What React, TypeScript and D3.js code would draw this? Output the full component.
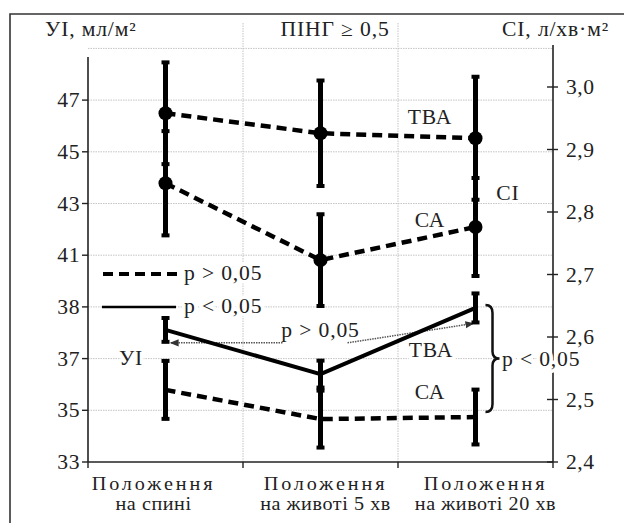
import React from 'react';
import * as d3 from 'd3';

// ---------- data ----------
const categories = ['спина', 'живіт 5', 'живіт 20'];
const catLine1 = ['Положення', 'Положення', 'Положення'];
const catLine2 = ['на спині', 'на животі 5 хв', 'на животі 20 хв'];
const catLabelShift = [-12, 5, 10];

// CI (right axis), л/хв·м²
const ciTva = [2.958, 2.926, 2.918];
const ciTvaErr = [0.083, 0.086, 0.1];
const ciSa = [2.846, 2.723, 2.776];
const ciSaErr = [0.085, 0.075, 0.08];

// УІ (left axis), мл/м²
const uiTva = [38.11, 36.4, 38.96];
const uiTvaErr = [0.5, 0.56, 0.6];
const uiSa = [35.79, 34.66, 34.74];
const uiSaErr = [1.16, 1.14, 1.1];

const leftTicks = [33, 35, 37, 39, 41, 43, 45, 47];
const leftTickLabels = ['33', '35', '37', '38', '41', '43', '45', '47'];
const gridValues = [35, 37, 39, 41, 43, 45, 47, 49];
const rightTicks = [2.4, 2.5, 2.6, 2.7, 2.8, 2.9, 3.0];
const rightTickLabels = ['2,4', '2,5', '2,6', '2,7', '2,8', '2,9', '3,0'];

// ---------- layout ----------
const W = 624;
const H = 523;
const X0 = 88;
const X1 = 553;
const Y0 = 462;
const FONT = "'Liberation Serif', 'Times New Roman', 'DejaVu Serif', serif";

const x = d3.scaleBand<string>().domain(categories).range([X0, X1]).padding(0);
const cx = (i: number) => (x(categories[i]) as number) + x.bandwidth() / 2;
const yL = d3.scaleLinear().domain([33, 49]).range([Y0, Y0 - 8 * 51.7]);
const yR = d3.scaleLinear().domain([2.4, 3.0]).range([Y0, 87]);

const T = ({ x: tx, y: ty, anchor = 'start', size = 20, halo = false, ls = 0.8, sx = 1.08, children }: any) => (
  <text
    transform={`translate(${tx},${ty}) scale(${sx},1)`}
    textAnchor={anchor}
    style={{ fontFamily: FONT, fontSize: size, letterSpacing: ls }}
    fill="#222"
    stroke={halo ? '#fff' : 'none'}
    strokeWidth={halo ? 7 : 0}
    strokeLinejoin="round"
    paintOrder="stroke"
  >
    {children}
  </text>
);

function ErrorBars({ vals, errs, scale }: { vals: number[]; errs: number[]; scale: any }) {
  return (
    <g>
      {vals.map((v, i) => {
        const xc = cx(i);
        const top = scale(v + errs[i]);
        const bot = scale(v - errs[i]);
        return (
          <g key={i}>
            <line x1={xc} x2={xc} y1={top} y2={bot} stroke="#000" strokeWidth={5} />
            <line x1={xc - 4} x2={xc + 4} y1={top + 1} y2={top + 1} stroke="#000" strokeWidth={4} />
            <line x1={xc - 4} x2={xc + 4} y1={bot - 1} y2={bot - 1} stroke="#000" strokeWidth={4} />
          </g>
        );
      })}
    </g>
  );
}

export default function App() {
  const lineL = d3.line<number>().x((_, i) => cx(i)).y((d) => yL(d));
  const lineR = d3.line<number>().x((_, i) => cx(i)).y((d) => yR(d));

  const bx0 = cx(2) + 10;
  const bx1 = cx(2) + 17;
  const bx2 = cx(2) + 24;
  const bTop = yL(uiTva[2]) - 3;
  const bBot = yL(uiSa[2]) - 5;
  const bMid = (bTop + bBot) / 2;
  const brace = `M${bx0},${bTop} Q${bx1},${bTop} ${bx1},${bTop + 8} L${bx1},${bMid - 7} Q${bx1},${bMid} ${bx2},${bMid} Q${bx1},${bMid} ${bx1},${bMid + 7} L${bx1},${bBot - 8} Q${bx1},${bBot} ${bx0},${bBot}`;

  const arrowY1 = yL(uiTva[0] - uiTvaErr[0]);
  const arrowY3 = yL(uiTva[2] - uiTvaErr[2]);

  return (
    <svg width={W} height={H} style={{ position: 'absolute', left: 0, top: 0, background: '#fff' }}>
      <defs>
        <marker id="arr" viewBox="0 0 10 10" refX="9" refY="5" markerWidth="6" markerHeight="6" orient="auto-start-reverse">
          <path d="M0,1 L10,5 L0,9 z" fill="#333" />
        </marker>
      </defs>
      <rect x={0} y={0} width={W} height={H} fill="#fff" />
      {/* frame */}
      <path d={`M10,${H + 5} V14 H${W + 2}`} fill="none" stroke="#333" strokeWidth={1.6} />

      {/* gridlines */}
      {gridValues.map((g) => (
        <line key={g} x1={X0} x2={X1} y1={yL(g)} y2={yL(g)} stroke="#c4c4c4" strokeWidth={1} strokeDasharray="1.5,1" />
      ))}
      {categories.slice(1).map((c) => (
        <line key={c} x1={x(c)} x2={x(c)} y1={23} y2={Y0} stroke="#c4c4c4" strokeWidth={1} strokeDasharray="1.5,1" />
      ))}

      {/* axes */}
      <line x1={X0} x2={X0} y1={57} y2={Y0} stroke="#222" strokeWidth={1.6} />
      <line x1={X1} x2={X1} y1={45} y2={Y0} stroke="#222" strokeWidth={1.6} />
      <line x1={X0} x2={X1} y1={Y0} y2={Y0} stroke="#222" strokeWidth={1.6} />
      {leftTicks.map((t, i) => (
        <g key={t}>
          <line x1={X0 - 6} x2={X0} y1={yL(t)} y2={yL(t)} stroke="#222" strokeWidth={1.4} />
          <T x={80} y={yL(t) + 7} anchor="end" ls={0.5}>{leftTickLabels[i]}</T>
        </g>
      ))}
      {rightTicks.map((t, i) => (
        <g key={t}>
          <line x1={X1 - 6} x2={X1 + 5} y1={yR(t)} y2={yR(t)} stroke="#222" strokeWidth={1.4} />
          <T x={566} y={yR(t) + 7} ls={0.5}>{rightTickLabels[i]}</T>
        </g>
      ))}
      {[...categories.map((c) => x(c) as number), X1].map((v) => (
        <line key={v} x1={v} x2={v} y1={Y0} y2={Y0 + 6} stroke="#222" strokeWidth={1.4} />
      ))}
      {categories.map((c, i) => (
        <g key={c}>
          <T x={cx(i) + catLabelShift[i]} y={490} anchor="middle" size={18} ls={2.6} sx={1.12}>{catLine1[i]}</T>
          <T x={cx(i) + catLabelShift[i]} y={510} anchor="middle" size={18} ls={0.5} sx={1.12}>{catLine2[i]}</T>
        </g>
      ))}

      {/* titles */}
      <T x={45} y={36} halo>УІ, мл/м²</T>
      <T x={335} y={36} anchor="middle" halo>ПІНГ ≥ 0,5</T>
      <T x={609} y={36} anchor="end" halo>СІ, л/хв·м²</T>

      {/* series labels */}
      <T x={430} y={124} anchor="middle" halo>ТВА</T>
      <T x={430} y={227} anchor="middle" halo>СА</T>
      <T x={508} y={200} anchor="middle" halo>СІ</T>
      <T x={431} y={357} anchor="middle" halo>ТВА</T>
      <T x={430} y={399} anchor="middle" halo>СА</T>
      <T x={131} y={365} anchor="middle" halo>УІ</T>
      <T x={502} y={366} halo>p &lt; 0,05</T>

      {/* legend */}
      <line x1={103} x2={178} y1={274} y2={274} stroke="#000" strokeWidth={4} strokeDasharray="10,6" />
      <T x={184} y={280} halo>p &gt; 0,05</T>
      <line x1={102} x2={176} y1={307} y2={307} stroke="#000" strokeWidth={2.5} />
      <T x={184} y={313} halo>p &lt; 0,05</T>

      {/* annotation p > 0,05 with dotted arrows */}
      <T x={cx(1)} y={337} anchor="middle" halo>p &gt; 0,05</T>
      <line x1={cx(1) - 38} x2={cx(0) + 5} y1={arrowY1} y2={arrowY1} stroke="#555" strokeWidth={1.5} strokeDasharray="1.5,1" markerEnd="url(#arr)" />
      <line x1={cx(1) + 27} x2={cx(2) - 2} y1={arrowY1} y2={arrowY3} stroke="#555" strokeWidth={1.5} strokeDasharray="1.5,1" markerEnd="url(#arr)" />

      {/* brace */}
      <path d={brace} fill="none" stroke="#111" strokeWidth={2.5} />

      {/* error bars */}
      <ErrorBars vals={ciTva} errs={ciTvaErr} scale={yR} />
      <ErrorBars vals={ciSa} errs={ciSaErr} scale={yR} />
      <ErrorBars vals={uiTva} errs={uiTvaErr} scale={yL} />
      <ErrorBars vals={uiSa} errs={uiSaErr} scale={yL} />

      {/* lines */}
      <path d={lineR(ciTva) as string} fill="none" stroke="#000" strokeWidth={4.5} strokeDasharray="10,6" />
      <path d={lineR(ciSa) as string} fill="none" stroke="#000" strokeWidth={4.5} strokeDasharray="10,6" />
      <path d={lineL(uiSa) as string} fill="none" stroke="#000" strokeWidth={4.5} strokeDasharray="10,6" />
      <path d={lineL(uiTva) as string} fill="none" stroke="#000" strokeWidth={4} />

      {/* markers */}
      {ciTva.map((v, i) => (
        <circle key={'t' + i} cx={cx(i)} cy={yR(v)} r={7} fill="#000" />
      ))}
      {ciSa.map((v, i) => (
        <circle key={'s' + i} cx={cx(i)} cy={yR(v)} r={7} fill="#000" />
      ))}
    </svg>
  );
}
